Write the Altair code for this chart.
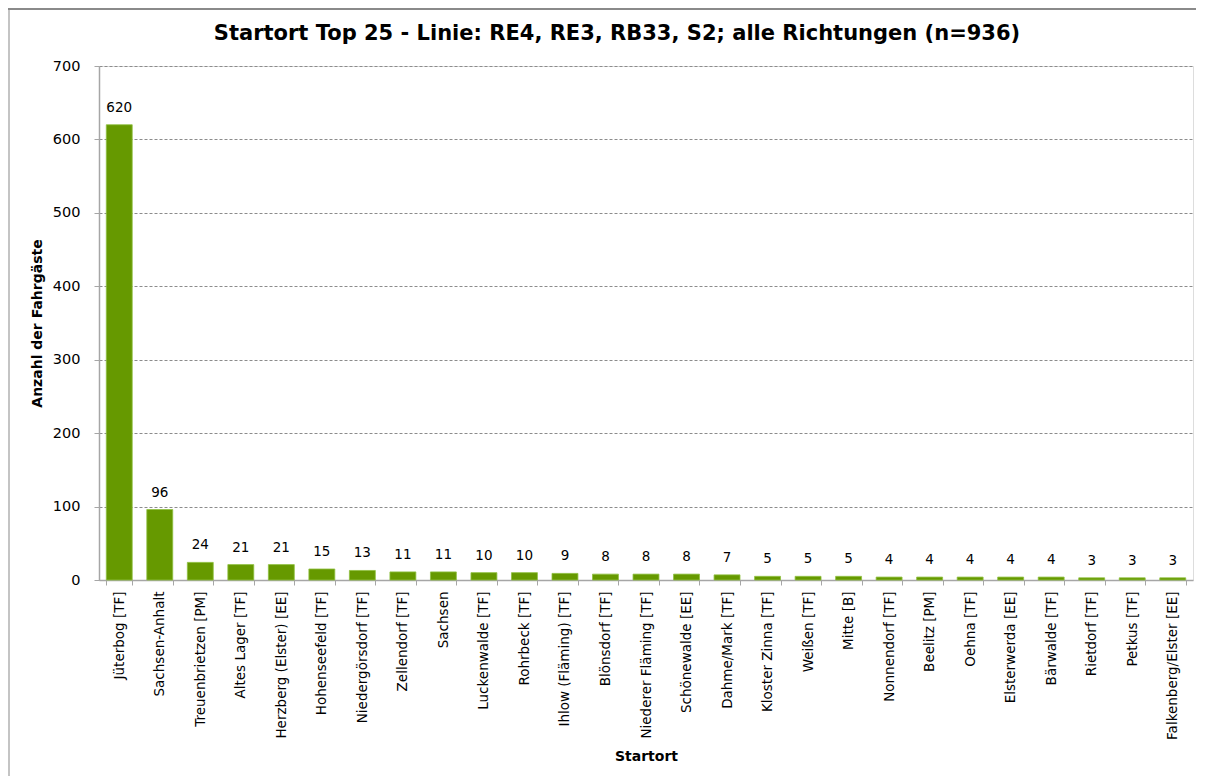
import altair as alt
import pandas as pd

orte = ["Jüterbog [TF]", "Sachsen-Anhalt", "Treuenbrietzen [PM]", "Altes Lager [TF]",
        "Herzberg (Elster) [EE]", "Hohenseefeld [TF]", "Niedergörsdorf [TF]", "Zellendorf [TF]",
        "Sachsen", "Luckenwalde [TF]", "Rohrbeck [TF]", "Ihlow (Fläming) [TF]", "Blönsdorf [TF]",
        "Niederer Fläming [TF]", "Schönewalde [EE]", "Dahme/Mark [TF]", "Kloster Zinna [TF]",
        "Weißen [TF]", "Mitte [B]", "Nonnendorf [TF]", "Beelitz [PM]", "Oehna [TF]",
        "Elsterwerda [EE]", "Bärwalde [TF]", "Rietdorf [TF]", "Petkus [TF]", "Falkenberg/Elster [EE]"]
anzahl = [620, 96, 24, 21, 21, 15, 13, 11, 11, 10, 10, 9, 8, 8, 8, 7, 5, 5, 5, 4, 4, 4, 4, 4, 3, 3, 3]
y_ticks = [0, 100, 200, 300, 400, 500, 600, 700]
titel = ["Startort Top 25 - Linie: RE4, RE3, RB33, S2; alle Richtungen (n=936)"]

df = pd.DataFrame({"Startort": orte, "Anzahl": anzahl})

FONT = "DejaVu Sans"
W, H = 1094, 514

x_enc = alt.X("Startort:N", sort=orte, title="Startort",
              scale=alt.Scale(paddingInner=0.36, paddingOuter=0.18),
              axis=alt.Axis(labelAngle=-90, labelAlign="right", labelBaseline="middle",
                            labelFont=FONT, labelFontSize=13.5, labelColor="#000000",
                            labelPadding=6, tickBand="extent", tickSize=5, tickColor="#a6a6a6",
                            domainColor="#a6a6a6", domainWidth=1.5,
                            titleFont=FONT, titleFontSize=14, titleFontWeight="bold",
                            titleColor="#000000", titlePadding=10))
y_enc = alt.Y("Anzahl:Q", title="Anzahl der Fahrgäste",
              scale=alt.Scale(domain=[0, 700], nice=False),
              axis=alt.Axis(values=y_ticks, labelFont=FONT, labelFontSize=14.5, labelColor="#000000",
                            labelPadding=14, tickSize=5, tickColor="#a6a6a6", domainColor="#a6a6a6",
                            domainWidth=1.5,
                            grid=True, gridColor="#8c8c8c", gridDash=[3, 2], gridWidth=1,
                            titleFont=FONT, titleFontSize=14, titleFontWeight="bold",
                            titleColor="#000000", titlePadding=8))

bars = alt.Chart(df).mark_bar(color="#669900", stroke="#8fc040", strokeWidth=0.8).encode(
    x=x_enc, y=y_enc)

labels = alt.Chart(df).mark_text(font=FONT, fontSize=13.5, color="#000000", baseline="bottom",
                                 dy=-10).encode(
    x=alt.X("Startort:N", sort=orte), y=alt.Y("Anzahl:Q"), text="Anzahl:Q")

title_df = pd.DataFrame({"t": titel})
title_mark = alt.Chart(title_df).mark_text(font=FONT, fontSize=21, fontWeight="bold",
                                           color="#000000", align="center",
                                           baseline="alphabetic", clip=False).encode(
    x=alt.value(W / 2 - 29), y=alt.value(-26), text="t:N")

frame_left = alt.Chart(title_df).mark_rule(color="#c4c4c4", strokeWidth=2, clip=False).encode(
    x=alt.value(-90), y=alt.value(-57), y2=alt.value(H + 220))
frame_top = alt.Chart(title_df).mark_rule(color="#8a8a8a", strokeWidth=2, clip=False).encode(
    x=alt.value(-91), x2=alt.value(W + 3), y=alt.value(-57))

chart = alt.layer(bars, labels, title_mark, frame_left, frame_top).properties(
    width=W, height=H,
    autosize=alt.AutoSizeParams(type="none"),
    padding={"left": 91, "top": 58, "right": 3, "bottom": 196},
).configure_view(stroke=None).configure(background="#ffffff")

chart.save("out.html", embed_options={"renderer": "svg", "actions": False})
